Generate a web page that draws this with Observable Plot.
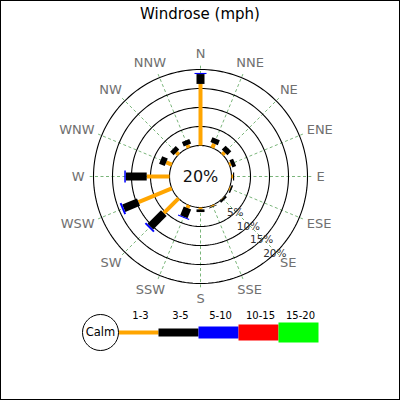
<!DOCTYPE html>
<html><head><meta charset="utf-8">
<script src="https://cdn.jsdelivr.net/npm/d3@7"></script>
<script src="https://cdn.jsdelivr.net/npm/@observablehq/plot@0.6"></script>
<style>
body{margin:0;background:#fff;font-family:"DejaVu Sans",sans-serif;}
#wrap{position:relative;width:400px;height:400px;overflow:hidden;background:#fff}
#border{position:absolute;left:0;top:0;width:400px;height:400px;box-sizing:border-box;border:1px solid #000;pointer-events:none}
#title{height:28px;line-height:29px;text-align:center;font-size:15px;color:#000}
svg{display:block}
</style></head><body>
<div id="wrap"><div id="title">Windrose (mph)</div><div id="rose"></div><div id="legend"></div><div id="border"></div></div>
<script>
// ---- data ----
const directions = ["N","NNE","NE","ENE","E","ESE","SE","SSE","S","SSW","SW","WSW","W","WNW","NW","NNW"];
const bins = ["1-3","3-5","5-10","10-15","15-20"];
const binColors = ["#ffa500","#000000","#0000ff","#ff0000","#00ff00"];
const s1_3   = [16.2,1.2,0.8,0.5,0.4,0.3,0.1,0.3,0.5,0.8,5.5,9.5,6.0,1.6,0.8,0.8];
const s3_5   = [2.6,1.4,1.45,1.05,0.3,0.4,0.5,0.2,0.7,2.5,5.0,4.2,5.5,1.6,1.3,1.3];
const s5_10  = [0.3,0,0,0,0,0,0,0,0,0.3,0.5,0.5,0.4,0,0,0];
const s10_15 = [0,0,0,0,0,0,0,0,0,0,0,0,0,0,0,0];
const s15_20 = [0,0,0,0,0,0,0,0,0,0,0,0,0,0,0,0];
const calmPct = 20;
const ringTicks = [5,10,15,20];
const ringLabels = ["5%","10%","15%","20%"];

// ---- geometry ----
const series = [s1_3,s3_5,s5_10,s10_15,s15_20];
const widths = [4,8,12,16,20];
const K = 3.8;            // px per percent
const calmR = 31 / K;     // calm circle radius in percent units
const W = 400, H = 270, CY = 148;
const pol = (deg, p) => {
  const a = deg * Math.PI / 180, r = calmR + p;
  return [r * Math.sin(a), r * Math.cos(a)];
};

const segs = [];
directions.forEach((d, i) => {
  let cum = 0;
  series.forEach((s, b) => {
    const v = s[i];
    if (v > 0) {
      const [x1, y1] = pol(i * 22.5, cum);
      const [x2, y2] = pol(i * 22.5, cum + v);
      segs.push({dir: d, bin: b, x1, y1, x2, y2});
      cum += v;
    }
  });
});

const ringPts = [];
[0, ...ringTicks].forEach(p => {
  for (let a = 0; a < 360; a += 2) {
    const [x, y] = pol(a, p);
    ringPts.push({ring: p, x, y});
  }
});

const spokes = directions.map((d, i) => {
  const [x1, y1] = pol(i * 22.5, 0);
  const [x2, y2] = pol(i * 22.5, 21);
  return {x1, y1, x2, y2};
});

// direction labels placed just outside a base radius, offset by half their extent
const ctx = document.createElement("canvas").getContext("2d");
ctx.font = "13px 'DejaVu Sans'";
const dirLabels = directions.map((d, i) => {
  const deg = i * 22.5, a = deg * Math.PI / 180;
  const [bx, by] = pol(deg, (116 - 31) / K);
  const w = ctx.measureText(d).width;
  return {d, x: bx + (w / 2) * Math.sin(a) / K, y: by + 6.5 * Math.cos(a) / K};
});

const rLabels = ringTicks.map((p, j) => {
  const [x, y] = pol(136, p);
  return {t: ringLabels[j], x, y};
});

const rose = Plot.plot({
  width: W, height: H, margin: 0,
  style: "font-family:'DejaVu Sans',sans-serif;background:transparent;overflow:visible",
  x: {domain: [-200 / K, 200 / K], range: [0, W], axis: null},
  y: {domain: [-(H - CY) / K, CY / K], range: [H, 0], axis: null},
  marks: [
    Plot.link(spokes, {x1: "x1", y1: "y1", x2: "x2", y2: "y2", stroke: "#2e8b2e", strokeOpacity: 0.8, strokeWidth: 0.8, strokeDasharray: "3,2.5"}),
    Plot.line(ringPts, {x: "x", y: "y", z: "ring", curve: "linear-closed", stroke: "#000", strokeWidth: 1.1}),
    Plot.link(segs, {x1: "x1", y1: "y1", x2: "x2", y2: "y2",
      stroke: d => binColors[d.bin], strokeWidth: d => widths[d.bin], strokeLinecap: "butt"}),
    Plot.text(dirLabels, {x: "x", y: "y", text: "d", fontSize: 13, fill: "#707070"}),
    Plot.text(rLabels, {x: "x", y: "y", text: "t", fontSize: 10.5, fill: "#333"}),
    Plot.text([calmPct + "%"], {x: 0, y: 0, text: d => d, fontSize: 16, fill: "#111"})
  ]
});
document.getElementById("rose").appendChild(rose);

// ---- legend ----
const legendData = bins.map((b, i) => ({b, i}));
const legend = Plot.plot({
  width: W, height: 102, margin: 0,
  style: "font-family:'DejaVu Sans',sans-serif;background:transparent;overflow:visible",
  x: {domain: [-2.95, 7.05], range: [0, W], axis: null},
  y: {domain: [0, 102], range: [0, 102], axis: null},
  marks: [
    Plot.link(legendData, {x1: d => d.i, x2: d => d.i + 1, y1: 34, y2: 34,
      stroke: d => binColors[d.i], strokeWidth: d => widths[d.i], strokeLinecap: "butt"}),
    Plot.text(legendData, {x: d => d.i + 0.55, y: 17, text: "b", fontSize: 10, fill: "#000"}),
    Plot.dot(["Calm"], {x: -0.45, y: 34, r: 18, stroke: "#000", fill: "#fff", strokeWidth: 1}),
    Plot.text(["Calm"], {x: -0.45, y: 34, text: d => d, fontSize: 11.5, fill: "#000"})
  ]
});
document.getElementById("legend").appendChild(legend);
</script>
</body></html>
